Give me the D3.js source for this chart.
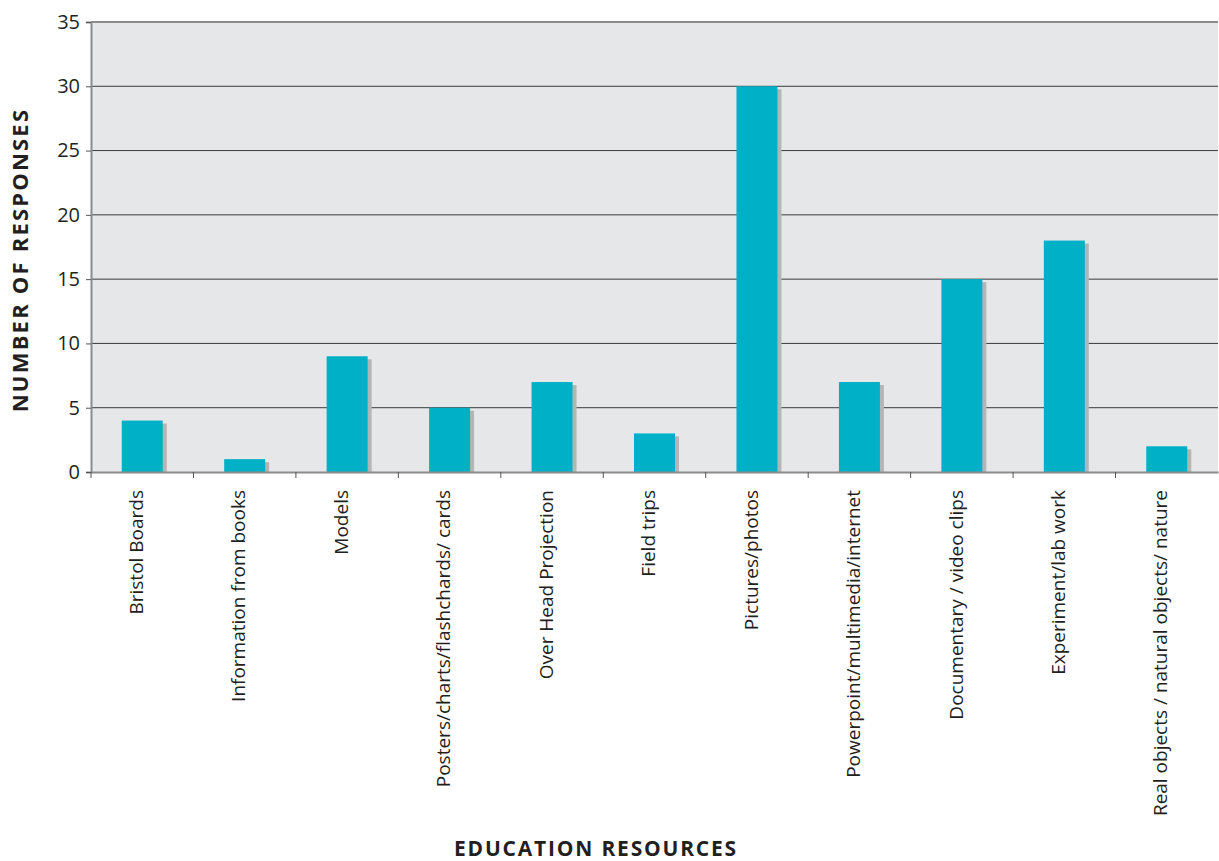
<!DOCTYPE html>
<html>
<head>
<meta charset="utf-8">
<script src="https://cdn.jsdelivr.net/npm/d3@7"></script>
<style>
  html, body { margin: 0; padding: 0; background: #fff; }
  svg { display: block; font-family: "Open Sans", "Lato", sans-serif; }
  svg text { font-family: "Open Sans", "Lato", sans-serif; }
</style>
</head>
<body>
<svg id="chart" width="1219" height="861"></svg>
<script>
// Survey: teaching resources used, by number of responses
const categories = [
  "Bristol Boards",
  "Information from books",
  "Models",
  "Posters/charts/flashchards/ cards",
  "Over Head Projection",
  "Field trips",
  "Pictures/photos",
  "Powerpoint/multimedia/internet",
  "Documentary / video clips",
  "Experiment/lab work",
  "Real objects / natural objects/ nature"
];
const responses = [4, 1, 9, 5, 7, 3, 30, 7, 15, 18, 2];
const yTicks = [0, 5, 10, 15, 20, 25, 30, 35];

const svg = d3.select("#chart");
const margin = { left: 91, right: 1, top: 22, bottom: 389 };
const W = 1219, H = 861;
const x0 = margin.left, x1 = W - margin.right;
const y0 = H - margin.bottom, y1 = margin.top;

const x = d3.scaleBand().domain(categories).range([x0, x1]).paddingInner(0).paddingOuter(0);
const y = d3.scaleLinear().domain([0, 35]).range([y0, y1]);

// plot background
svg.append("rect")
  .attr("x", x0).attr("y", y1)
  .attr("width", x1 - x0).attr("height", y0 - y1)
  .attr("fill", "#e6e7e9");

// horizontal gridlines
svg.append("g").selectAll("line")
  .data(yTicks.filter(d => d > 0 && d < 35))
  .join("line")
  .attr("x1", x0).attr("x2", x1)
  .attr("y1", d => y(d)).attr("y2", d => y(d))
  .attr("stroke", "#3a3a3a").attr("stroke-width", 1);

// top border
svg.append("line")
  .attr("x1", x0).attr("x2", x1)
  .attr("y1", y1).attr("y2", y1)
  .attr("stroke", "#8c8c8c").attr("stroke-width", 2);

const bw = x.bandwidth() * 0.4;
const barX = d => x(d) + (x.bandwidth() - bw) / 2;

// bar shadows
svg.append("g").selectAll("rect")
  .data(categories)
  .join("rect")
  .attr("x", d => barX(d) + 4)
  .attr("y", (d, i) => y(responses[i]) + 3)
  .attr("width", bw)
  .attr("height", (d, i) => y0 - y(responses[i]) - 3)
  .attr("fill", "#b5b5b5");

// bars
svg.append("g").selectAll("rect")
  .data(categories)
  .join("rect")
  .attr("x", d => barX(d))
  .attr("y", (d, i) => y(responses[i]))
  .attr("width", bw)
  .attr("height", (d, i) => y0 - y(responses[i]))
  .attr("fill", "#00b0c6");

// y axis
const yAxis = svg.append("g")
  .attr("transform", `translate(${x0},0)`)
  .call(d3.axisLeft(y).tickValues(yTicks).tickSize(5).tickPadding(6));
yAxis.attr("font-family", null).attr("font-size", 20);
yAxis.select(".domain").attr("stroke", "#8c8c8c").attr("stroke-width", 2);
yAxis.selectAll(".tick line").attr("stroke", "#555");
yAxis.selectAll("text").attr("font-size", 20).attr("fill", "#231f20");

// x axis
const xAxis = svg.append("g")
  .attr("transform", `translate(0,${y0})`)
  .call(d3.axisBottom(x).tickSize(0).tickFormat(""));
xAxis.select(".domain").attr("stroke", "#8c8c8c").attr("stroke-width", 2);

// category boundary ticks
const bounds = categories.map(d => x(d));
svg.append("g").selectAll("line")
  .data(bounds)
  .join("line")
  .attr("x1", d => d).attr("x2", d => d)
  .attr("y1", y0).attr("y2", y0 + 6)
  .attr("stroke", "#555").attr("stroke-width", 1);

// category labels (rotated)
svg.append("g").selectAll("text")
  .data(categories)
  .join("text")
  .attr("transform", d => `translate(${x(d) + x.bandwidth() / 2 - 6},${y0 + 18}) rotate(-90)`)
  .attr("text-anchor", "end")
  .attr("dy", "0.35em")
  .attr("font-size", 19)
  .attr("fill", "#231f20")
  .text(d => d);

// axis titles
svg.append("text")
  .attr("transform", `translate(20,260) rotate(-90)`)
  .attr("text-anchor", "middle")
  .attr("dy", "0.35em")
  .attr("font-size", 22)
  .attr("letter-spacing", 2.2)
  .attr("font-weight", "bold")
  .attr("fill", "#231f20")
  .text("NUMBER OF RESPONSES");

svg.append("text")
  .attr("x", 596).attr("y", 856)
  .attr("text-anchor", "middle")
  .attr("font-size", 21)
  .attr("letter-spacing", 1.8)
  .attr("font-weight", "bold")
  .attr("fill", "#231f20")
  .text("EDUCATION RESOURCES");
</script>
</body>
</html>
